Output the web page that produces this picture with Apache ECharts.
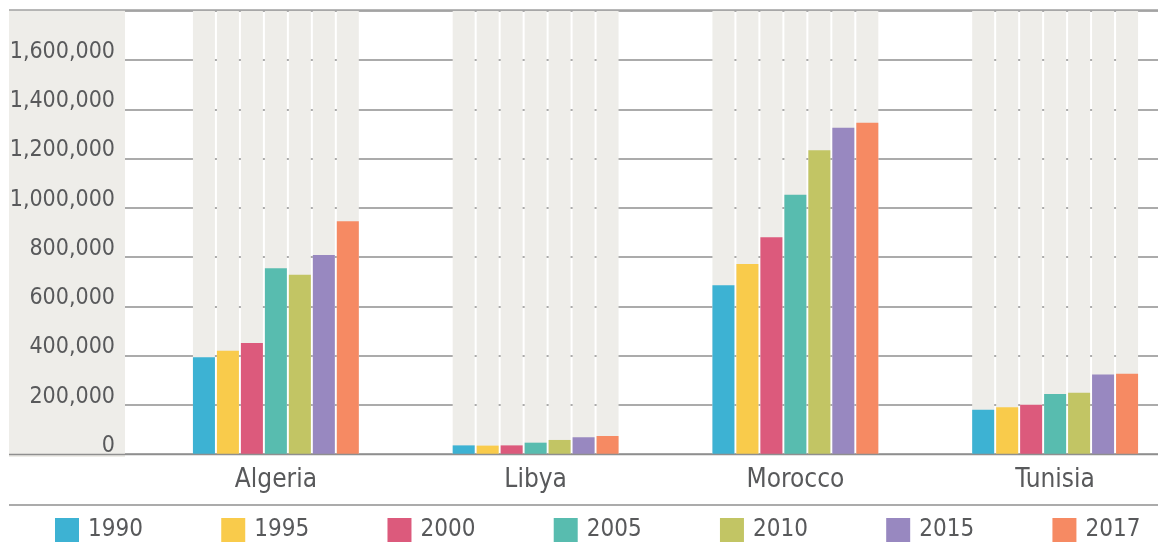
<!DOCTYPE html>
<html>
<head>
<meta charset="utf-8">
<title>Population by country, 1990–2017</title>
<script src="https://cdn.jsdelivr.net/npm/echarts@6/dist/echarts.min.js"></script>
<style>
  html, body { margin: 0; padding: 0; background: #ffffff; }
  #chart { width: 1158px; height: 551px; }
</style>
</head>
<body>
<div id="chart"></div>
<script>
// Countries on the category axis
const countries = ['Algeria', 'Libya', 'Morocco', 'Tunisia'];

// Reference years shown in the legend
const years = ['1990', '1995', '2000', '2005', '2010', '2015', '2017'];

// Values per year, in country order (Algeria, Libya, Morocco, Tunisia)
const v1990 = [393000, 35000, 685000, 180000];
const v1995 = [419000, 34000, 772000, 190000];
const v2000 = [451000, 35000, 880000, 200000];
const v2005 = [754000, 46000, 1053000, 244000];
const v2010 = [728000, 57000, 1234000, 249000];
const v2015 = [808000, 68000, 1325000, 323000];
const v2017 = [945000, 73000, 1345000, 326000];

// Value axis range and tick step
const yMin = 0;
const yMax = 1800000;
const yStep = 200000;

const valuesByYear = [v1990, v1995, v2000, v2005, v2010, v2015, v2017];
const colors = ['#3db2d3', '#f9cb4b', '#dc5a7c', '#58bcaf', '#c2c564', '#9888c0', '#f68a63'];

const FONT = "'Liberation Sans Narrow', 'Arial Narrow', 'DejaVu Sans Condensed', sans-serif";
const TEXT = '#58595b';
const LINE = '#8f8f8f';
const PANEL = '#eeede9';

const chart = echarts.init(document.getElementById('chart'), null, { renderer: 'canvas' });

const series = years.map((y, i) => ({
  name: y,
  type: 'bar',
  xAxisIndex: 1,
  yAxisIndex: 1,
  data: valuesByYear[i],
  barWidth: 22,
  barGap: '9%',
  itemStyle: { color: colors[i] },
  showBackground: true,
  backgroundStyle: { color: PANEL },
  emphasis: { disabled: true }
}));

chart.setOption({
  animation: false,
  textStyle: { fontFamily: FONT },
  grid: [
    // grid carrying the value labels and horizontal rules
    { left: 125, right: 0, top: 10.75, bottom: 97, containLabel: false, outerBoundsMode: 'none' },
    // grid carrying the grouped bars (its last band runs past the right edge)
    { left: 146, width: 1039, top: 10.75, bottom: 97, containLabel: false, outerBoundsMode: 'none' }
  ],
  xAxis: [
    { type: 'category', gridIndex: 0, data: countries, show: false },
    {
      type: 'category',
      gridIndex: 1,
      data: countries,
      axisLine: { show: false },
      axisTick: { show: false },
      axisLabel: { fontFamily: FONT, fontSize: 26, color: TEXT, margin: 13 }
    }
  ],
  yAxis: [
    {
      type: 'value',
      gridIndex: 0,
      min: yMin,
      max: yMax,
      interval: yStep,
      axisLine: { show: false },
      axisTick: { show: false },
      splitLine: { lineStyle: { color: LINE, width: 1.5 } },
      axisLabel: {
        showMaxLabel: false,
        fontFamily: FONT,
        fontSize: 23,
        color: TEXT,
        margin: 10,
        verticalAlign: 'bottom',
        lineHeight: 16,
        formatter: v => v.toLocaleString('en-US')
      }
    },
    {
      type: 'value',
      gridIndex: 1,
      min: yMin,
      max: yMax,
      interval: yStep,
      show: false,
      splitLine: { show: false }
    }
  ],
  legend: {
    data: years,
    left: 55,
    top: 518,
    padding: 0,
    itemWidth: 24,
    itemHeight: 24,
    itemGap: 78.3,
    icon: 'rect',
    selectedMode: false,
    textStyle: {
      fontFamily: FONT,
      fontSize: 24,
      color: TEXT,
      padding: [4, 0, 0, 4]
    }
  },
  graphic: [
    { type: 'rect', z: -1, silent: true, shape: { x: 9, y: 10, width: 116, height: 447 }, style: { fill: PANEL } },
    { type: 'line', z: 10, silent: true, shape: { x1: 9, y1: 10, x2: 1158, y2: 10 }, style: { stroke: '#a0a0a0', lineWidth: 1.5 } },
    { type: 'line', z: 10, silent: true, shape: { x1: 9, y1: 454.5, x2: 1158, y2: 454.5 }, style: { stroke: LINE, lineWidth: 1.5 } },
    { type: 'line', z: 10, silent: true, shape: { x1: 9, y1: 505, x2: 1158, y2: 505 }, style: { stroke: LINE, lineWidth: 1.5 } }
  ],
  series: series
});
</script>
</body>
</html>
